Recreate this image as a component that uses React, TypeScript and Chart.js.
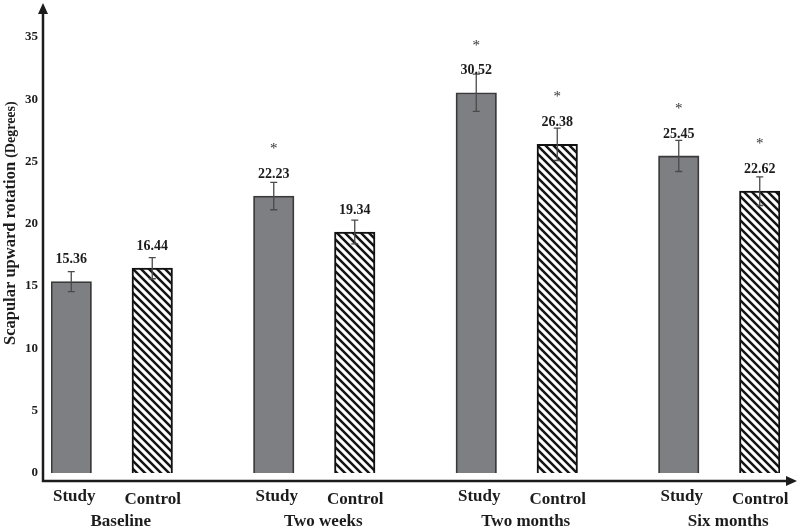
import { useEffect, useRef } from "react";
import { Chart, registerables } from "chart.js";

Chart.register(...registerables);

const groups = ["Baseline", "Two weeks", "Two months", "Six months"];
const armLabels = ["Study", "Control"];
const studyMeans = [15.36, 22.23, 30.52, 25.45];
const controlMeans = [16.44, 19.34, 26.38, 22.62];
const studySD = [0.8, 1.1, 1.5, 1.25];
const controlSD = [0.85, 0.95, 1.3, 1.15];
const studyStar = [false, true, true, true];
const controlStar = [false, false, true, true];
const yTicks = [0, 5, 10, 15, 20, 25, 30, 35];
const yTitle = "Scapular upward rotation ";
const yUnit = "(Degrees)";

const SLOTS_PER_GROUP = 5;
const CONTROL_OFFSET = 2;
const SLOT_COUNT = SLOTS_PER_GROUP * (groups.length - 1) + CONTROL_OFFSET + 1;

const FONT = '"Liberation Serif", "Times New Roman", "DejaVu Serif", serif';
const INK = "#1c1c1c";

function makePattern(): CanvasPattern | string {
  const pc = document.createElement("canvas");
  pc.width = 8;
  pc.height = 8;
  const p = pc.getContext("2d");
  if (!p) return "#fff";
  p.fillStyle = "#ffffff";
  p.fillRect(0, 0, 8, 8);
  p.strokeStyle = "#151515";
  p.lineWidth = 2.5;
  p.beginPath();
  p.moveTo(-2, -2);
  p.lineTo(10, 10);
  p.moveTo(-2, 6);
  p.lineTo(2, 10);
  p.moveTo(6, -2);
  p.lineTo(10, 2);
  p.stroke();
  const pat = p.createPattern(pc, "repeat");
  return pat || "#fff";
}

const overlayPlugin = {
  id: "overlay",
  afterDatasetsDraw(chart: any) {
    const { ctx, chartArea, scales } = chart;
    const ys = scales.y;
    const axisX = chartArea.left - 8;
    const zeroY = ys.getPixelForValue(0);
    const axisY = zeroY + 8;

    ctx.save();
    const sets = [
      { means: studyMeans, sd: studySD, star: studyStar, off: 0 },
      { means: controlMeans, sd: controlSD, star: controlStar, off: CONTROL_OFFSET },
    ];
    sets.forEach((s, di) => {
      const meta = chart.getDatasetMeta(di);
      s.means.forEach((m, g) => {
        const el = meta.data[g * SLOTS_PER_GROUP + s.off];
        if (!el) return;
        const cx = el.x;
        const top = ys.getPixelForValue(m + s.sd[g]);
        const bot = ys.getPixelForValue(m - s.sd[g]);
        ctx.strokeStyle = "#4a4a4a";
        ctx.lineWidth = 1.3;
        ctx.beginPath();
        ctx.moveTo(cx, top);
        ctx.lineTo(cx, bot);
        ctx.moveTo(cx - 3.5, top);
        ctx.lineTo(cx + 3.5, top);
        ctx.moveTo(cx - 3.5, bot);
        ctx.lineTo(cx + 3.5, bot);
        ctx.stroke();

        const barTop = ys.getPixelForValue(m);
        const labelY = barTop - 22;
        ctx.fillStyle = INK;
        ctx.font = `bold 14px ${FONT}`;
        ctx.textAlign = "center";
        ctx.textBaseline = "middle";
        ctx.fillText(m.toFixed(2), cx, labelY);
        if (s.star[g]) {
          ctx.fillStyle = "#333";
          ctx.font = `15px ${FONT}`;
          ctx.textBaseline = "alphabetic";
          ctx.fillText("*", cx, labelY - 26 + 5);
        }
      });
    });

    // axes
    ctx.strokeStyle = INK;
    ctx.fillStyle = INK;
    ctx.lineWidth = 2.5;
    ctx.beginPath();
    ctx.moveTo(axisX, axisY + 1.2);
    ctx.lineTo(axisX, 12);
    ctx.moveTo(axisX - 1.2, axisY);
    ctx.lineTo(787, axisY);
    ctx.stroke();
    ctx.beginPath();
    ctx.moveTo(axisX, 3);
    ctx.lineTo(axisX - 5, 14);
    ctx.lineTo(axisX + 5, 14);
    ctx.closePath();
    ctx.fill();
    ctx.beginPath();
    ctx.moveTo(797, axisY);
    ctx.lineTo(786, axisY - 5);
    ctx.lineTo(786, axisY + 5);
    ctx.closePath();
    ctx.fill();

    // y tick labels
    ctx.font = `bold 13px ${FONT}`;
    ctx.textAlign = "right";
    ctx.textBaseline = "middle";
    yTicks.forEach((t) => {
      ctx.fillText(String(t), axisX - 5, ys.getPixelForValue(t));
    });

    // x labels
    const xs = scales.x;
    ctx.font = `bold 17px ${FONT}`;
    ctx.textAlign = "center";
    groups.forEach((gName, g) => {
      const sx = xs.getPixelForValue(g * SLOTS_PER_GROUP);
      const cxp = xs.getPixelForValue(g * SLOTS_PER_GROUP + CONTROL_OFFSET);
      ctx.fillText(armLabels[0], sx + 3, axisY + 16);
      ctx.fillText(armLabels[1], cxp + 0.5, axisY + 19);
      ctx.fillText(gName, (sx + cxp) / 2 + 9, axisY + 41);
    });

    // y title
    ctx.save();
    ctx.translate(11, 345);
    ctx.rotate(-Math.PI / 2);
    ctx.textAlign = "left";
    ctx.textBaseline = "middle";
    ctx.font = `bold 16.5px ${FONT}`;
    ctx.fillText(yTitle, 0, 0);
    const w = ctx.measureText(yTitle).width;
    ctx.font = `bold 14px ${FONT}`;
    ctx.fillText(yUnit, w, 0);
    ctx.restore();

    ctx.restore();
  },
};

export default function App() {
  const ref = useRef<HTMLCanvasElement | null>(null);
  useEffect(() => {
    document.body.style.margin = "0";
    const canvas = ref.current;
    if (!canvas) return;
    const labels = Array.from({ length: SLOT_COUNT }, () => "");
    const studyData: (number | null)[] = Array.from({ length: SLOT_COUNT }, () => null);
    const controlData: (number | null)[] = Array.from({ length: SLOT_COUNT }, () => null);
    groups.forEach((_, g) => {
      studyData[g * SLOTS_PER_GROUP] = studyMeans[g];
      controlData[g * SLOTS_PER_GROUP + CONTROL_OFFSET] = controlMeans[g];
    });
    const pattern = makePattern();
    const chart = new Chart(canvas, {
      type: "bar",
      data: {
        labels,
        datasets: [
          {
            label: armLabels[0],
            data: studyData,
            backgroundColor: "#7e7f82",
            borderColor: "#3a3a3a",
            borderWidth: 1.8,
            grouped: false,
            categoryPercentage: 1,
            barPercentage: 1,
          } as any,
          {
            label: armLabels[1],
            data: controlData,
            backgroundColor: pattern as any,
            borderColor: "#111111",
            borderWidth: 2,
            grouped: false,
            categoryPercentage: 1,
            barPercentage: 1,
          } as any,
        ],
      },
      options: {
        responsive: false,
        animation: false,
        layout: { padding: { left: 51, right: 20, top: 12, bottom: 59 } },
        plugins: { legend: { display: false }, tooltip: { enabled: false } },
        scales: {
          x: { display: false, offset: true },
          y: { display: false, min: 0, max: 37 },
        },
      },
      plugins: [overlayPlugin],
    });
    return () => chart.destroy();
  }, []);
  return <canvas ref={ref} width={800} height={532} style={{ display: "block" }} />;
}
